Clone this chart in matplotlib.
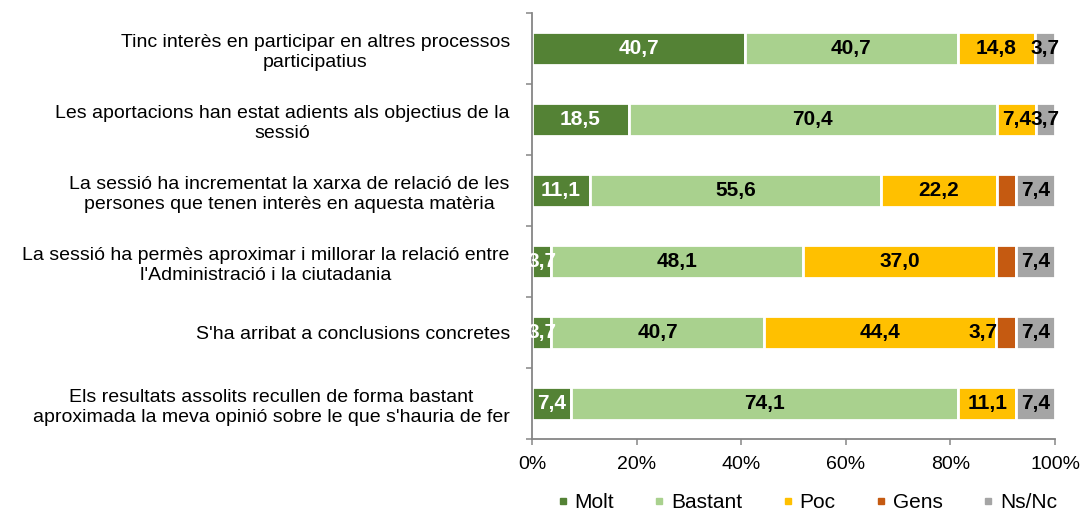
import matplotlib
matplotlib.use("Agg")
import matplotlib.pyplot as plt
from matplotlib.lines import Line2D
import numpy as np

plt.rcParams['font.family'] = ['Liberation Sans', 'DejaVu Sans']

### chart data

CATEGORIES = [
    "Tinc interès en participar en altres processos\nparticipatius",
    "Les aportacions han estat adients als objectius de la\nsessió",
    "La sessió ha incrementat la xarxa de relació de les\npersones que tenen interès en aquesta matèria",
    "La sessió ha permès aproximar i millorar la relació entre\nl'Administració i la ciutadania",
    "S'ha arribat a conclusions concretes",
    "Els resultats assolits recullen de forma bastant\naproximada la meva opinió sobre le que s'hauria de fer",
]
SERIES = ["Molt", "Bastant", "Poc", "Gens", "Ns/Nc"]
MOLT = [40.7, 18.5, 11.1, 3.7, 3.7, 7.4]
BASTANT = [40.7, 70.4, 55.6, 48.1, 40.7, 74.1]
POC = [14.8, 7.4, 22.2, 37.0, 44.4, 11.1]
GENS = [0.0, 0.0, 3.7, 3.7, 3.7, 0.0]
NSNC = [3.7, 3.7, 7.4, 7.4, 7.4, 7.4]
# which Gens values Excel actually labelled
GENS_LABELLED = [False, False, False, False, True, False]

COLORS = ["#548235", "#A9D18E", "#FFC000", "#C55A11", "#A5A5A5"]
LABEL_COLORS = ["white", "black", "black", "black", "black"]
AXIS_GREY = "#868686"


def fmt(v):
    return ("%.1f" % v).replace(".", ",")


def run():
    fig = plt.figure(figsize=(10.84, 5.14), dpi=100)
    ax = fig.add_axes([0.4908, 0.1459, 0.4825, 0.8288])

    y = np.arange(len(CATEGORIES))
    values = [MOLT, BASTANT, POC, GENS, NSNC]
    left = np.zeros(len(CATEGORIES))

    for s, (name, vals) in enumerate(zip(SERIES, values)):
        vals = np.array(vals)
        ax.barh(y, vals, left=left, height=0.475, color=COLORS[s],
                edgecolor="white", linewidth=2.0)
        for i, v in enumerate(vals):
            if v <= 0:
                continue
            if s == 3:
                if GENS_LABELLED[i]:
                    ax.text(left[i] + 0.2, y[i], fmt(v), ha="right", va="center",
                            fontsize=15, fontweight="bold", color="black")
                continue
            ax.text(left[i] + v / 2, y[i], fmt(v), ha="center", va="center",
                    fontsize=15, fontweight="bold", color=LABEL_COLORS[s])
        left = left + vals

    ax.set_xlim(0, 100)
    ax.set_ylim(len(CATEGORIES) - 0.5, -0.5)
    ax.set_xticks(np.arange(0, 101, 20))
    ax.set_xticklabels(["%d%%" % t for t in range(0, 101, 20)], fontsize=14)

    ax.set_yticks(y)
    ax.set_yticklabels(CATEGORIES, fontsize=14, multialignment="center", linespacing=1.25)
    ax.set_yticks(np.arange(-0.5, len(CATEGORIES), 1), minor=True)
    ax.tick_params(axis="y", which="major", length=0, pad=16)
    ax.tick_params(axis="y", which="minor", length=4, width=1.1, color=AXIS_GREY, direction="out")
    ax.tick_params(axis="x", length=4, width=1.1, color=AXIS_GREY, direction="out", pad=8)

    for side in ["top", "right"]:
        ax.spines[side].set_visible(False)
    for side in ["left", "bottom"]:
        ax.spines[side].set_color(AXIS_GREY)
        ax.spines[side].set_linewidth(1.3)

    handles = [Line2D([], [], linestyle="none", marker="s", markersize=5,
                      markerfacecolor=c, markeredgecolor=c) for c in COLORS]
    fig.legend(handles, SERIES, loc="center", bbox_to_anchor=(0.745, 0.022), ncol=5,
               frameon=False, fontsize=15, handlelength=0.4, handletextpad=0.35,
               columnspacing=2.0, borderaxespad=0, borderpad=0)

    fig.savefig("out.png", dpi=100)


if __name__ == '__main__':
    run()
